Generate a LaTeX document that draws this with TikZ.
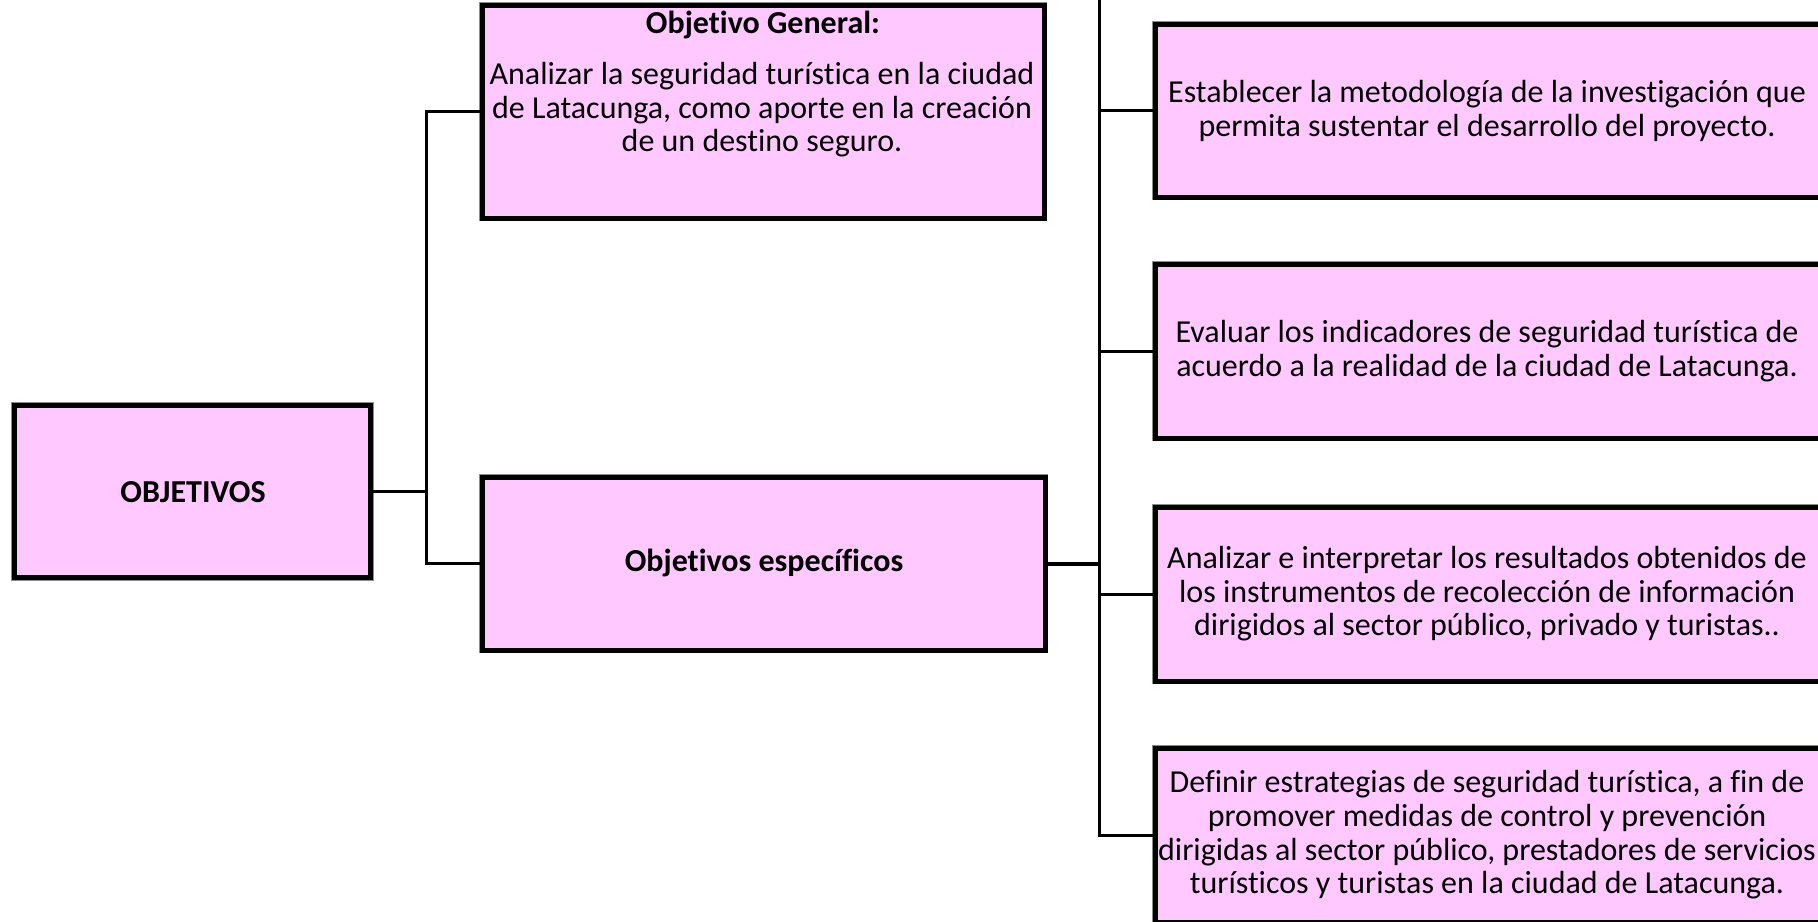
\documentclass[tikz,border=0pt]{standalone}
\usepackage{fontspec}
\setmainfont{Carlito}[Ligatures=NoCommon]
\definecolor{boxpink}{RGB}{255,201,255}
\tikzset{
  pbox/.style={draw=black,line width=2.5pt,fill=boxpink,rectangle,inner sep=0pt,
    preaction={draw=black!45,line width=3.4pt}},
  conn/.style={draw=black,line width=1.5pt,line join=miter},
  thickconn/.style={draw=black,line width=2pt},
  body/.style={font=\fontsize{16}{16.8}\selectfont,align=center,inner sep=0pt,text=black},
  bold/.style={font=\fontsize{16}{16.8}\selectfont\bfseries,align=center,inner sep=0pt,text=black}
}
\newcommand{\boxat}[5]{\node[pbox,minimum width={(#4-#2)*0.5pt},minimum height={(#5-#3)*0.5pt}] (#1) at ({(#2+#4)/2},{(#3+#5)/2}) {};}
\begin{document}
\begin{tikzpicture}[x=0.5pt,y=-0.5pt]
\useasboundingbox (0,0) rectangle (1818,921);
% boxes
\boxat{obj}{14.5}{405.5}{370.5}{577.5}
\boxat{gen}{482}{5}{1044}{218}
\boxat{esp}{482}{477}{1045}{650}
\boxat{s1}{1155}{24}{1821}{197}
\boxat{s2}{1155}{264}{1821}{438}
\boxat{s3}{1155}{507}{1821}{681}
\boxat{s4}{1155}{748}{1821}{922}
% texts
\node[bold] (tobj) at (193,492) {OBJETIVOS};
\node[bold] (tgen) at (763,25) {Objetivo General:};
\node[body] (bgen) at (762,110) {Analizar la seguridad turística en la ciudad\\de Latacunga, como aporte en la creación\\de un destino seguro.};
\node[bold] (tesp) at (764,563) {Objetivos específicos};
\node[body] (t1) at (1487,111) {Establecer la metodología de la investigación que\\permita sustentar el desarrollo del proyecto.};
\node[body] (t2) at (1487,351) {Evaluar los indicadores de seguridad turística de\\acuerdo a la realidad de la ciudad de Latacunga.};
\node[body] (t3) at (1487,594) {Analizar e interpretar los resultados obtenidos de\\los instrumentos de recolección de información\\dirigidos al sector público, privado y turistas..};
\node[body] (t4) at (1487,835) {Definir estrategias de seguridad turística, a fin de\\promover medidas de control y prevención\\dirigidas al sector público, prestadores de servicios\\turísticos y turistas en la ciudad de Latacunga.};
% junctions
\coordinate (jl) at (426,0);
\coordinate (jr) at (1099.5,-3);
% left connectors
\draw[conn] (obj.east) -- (obj.east -| jl);
\draw[conn] (gen.west) -- (gen.west -| jl) -- (esp.west -| jl) -- (esp.west);
% right connectors
\draw[conn] (jr) -- (jr |- s4.west) -- (s4.west);
\draw[thickconn] (esp.east) -- (esp.east -| jr);
\draw[conn] (s1.west -| jr) -- (s1.west);
\draw[conn] (s2.west -| jr) -- (s2.west);
\draw[conn] (s3.west -| jr) -- (s3.west);
\end{tikzpicture}
\end{document}
